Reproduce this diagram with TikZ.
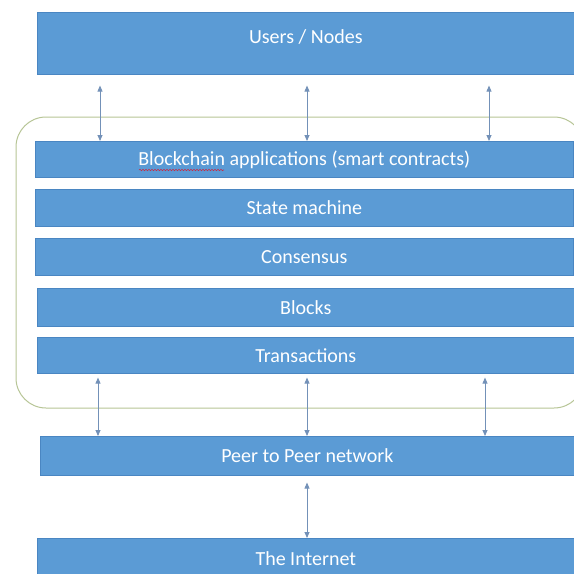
\documentclass[tikz,border=0pt]{standalone}
\usepackage{fontspec}
\setmainfont{Carlito}
\usetikzlibrary{arrows.meta,decorations.pathmorphing}
\definecolor{layerblue}{HTML}{5B9BD5}
\definecolor{layeredge}{HTML}{4A86C2}
\definecolor{arrowgrey}{HTML}{7391B8}
\definecolor{groupgreen}{HTML}{B7C596}
\definecolor{spellred}{HTML}{C0304A}
\tikzset{
  layerfont/.style={font=\fontsize{20}{22}\selectfont, text=white},
  layer/.style={draw=layeredge, line width=0.6pt, fill=layerblue, layerfont,
    inner sep=0pt, anchor=north west},
  biarrow/.style={draw=arrowgrey, line width=0.8pt,
    {Triangle[length=6pt,width=5pt]}-{Triangle[length=6pt,width=5pt]}},
  group/.style={draw=groupgreen, line width=1pt, rounded corners=30pt}
}
\newcommand{\layer}[6]{% name, x, y, width, height, text
  \node[layer, minimum width=#4pt, minimum height=#5pt] (#1) at (#2,#3) {#6};}
\begin{document}
\begin{tikzpicture}[x=1pt,y=-1pt]
  \useasboundingbox (0,0) rectangle (574,574);
  \fill[white] (0,0) rectangle (574,574);

  % the group of blockchain layers
  \draw[group] (16,117) rectangle (584,408);

  % protocol stack
  \layer{users}{37}{12}{537}{62}{}
  \node[layerfont] (userslabel) at ([yshift=6pt]users.center) {Users / Nodes};
  \layer{apps}{35}{141}{538}{36}{Blockchain applications (smart contracts)}
  \layer{state}{35}{189}{538}{37}{State machine}
  \layer{cons}{35}{238}{538}{37}{Consensus}
  \layer{blocks}{37}{288}{537}{38}{Blocks}
  \layer{tx}{37}{337}{537}{36}{Transactions}
  \layer{p2p}{40}{436}{534}{39}{Peer to Peer network}
  \layer{net}{37}{538}{537}{40}{The Internet}

  % spell-check underline under the first word
  \draw[spellred, line width=0.6pt, decorate,
        decoration={snake, amplitude=0.7pt, segment length=3pt}]
    (139,170) -- (224,170);

  % columns of the connectors
  \coordinate (u1) at (100,0);
  \coordinate (u2) at (307,0);
  \coordinate (u3) at (489,0);
  \coordinate (l1) at (98,0);
  \coordinate (l2) at (307,0);
  \coordinate (l3) at (485,0);

  \draw[biarrow, shorten <=11pt] (u1 |- users.south) -- (u1 |- apps.north);
  \draw[biarrow, shorten <=11pt] (u2 |- users.south) -- (u2 |- apps.north);
  \draw[biarrow, shorten <=11pt] (u3 |- users.south) -- (u3 |- apps.north);

  \draw[biarrow, shorten <=4pt] (l1 |- tx.south) -- (l1 |- p2p.north);
  \draw[biarrow, shorten <=4pt] (l2 |- tx.south) -- (l2 |- p2p.north);
  \draw[biarrow, shorten <=4pt] (l3 |- tx.south) -- (l3 |- p2p.north);

  \draw[biarrow, shorten <=7pt] (l2 |- p2p.south) -- (l2 |- net.north);
\end{tikzpicture}
\end{document}
